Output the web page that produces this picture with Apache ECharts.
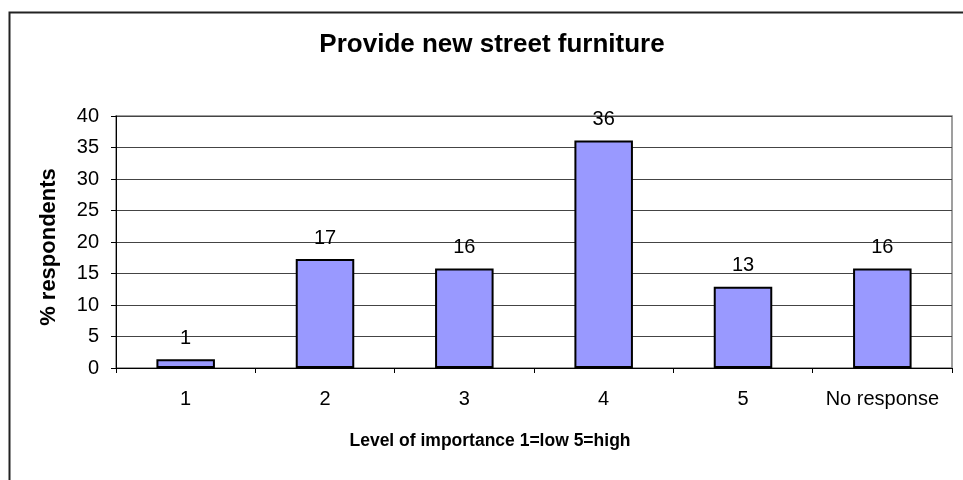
<!DOCTYPE html>
<html>
<head>
<meta charset="utf-8">
<script src="https://cdn.jsdelivr.net/npm/echarts@6/dist/echarts.min.js"></script>
<style>
  html, body { margin: 0; padding: 0; background: #fff; }
  #graf { width: 963px; height: 480px; }
</style>
</head>
<body>
<div id="graf"></div>
<script>
// datos
var categorias = ['1', '2', '3', '4', '5', 'No response'];
var porcentajes = [1.4, 17.3, 15.8, 36.1, 12.9, 15.8];
var ticksY = [0, 5, 10, 15, 20, 25, 30, 35, 40];

var fuente = 'Liberation Sans, Arial, sans-serif';

var myChart = echarts.init(document.getElementById('graf'));

var option = {
  animation: false,
  backgroundColor: '#fff',
  title: {
    text: 'Provide new street furniture',
    left: 487,
    top: 27,
    textAlign: 'center',
    textStyle: {
      fontFamily: fuente,
      fontWeight: 'bold',
      fontSize: 26,
      color: '#000'
    }
  },
  graphic: [
    {
      // marco exterior (solo se ve arriba e izquierda)
      type: 'rect',
      left: 7,
      top: 10,
      shape: { width: 1000, height: 1000 },
      style: { fill: 'none', stroke: '#222', lineWidth: 2 },
      silent: true
    }
  ],
  grid: {
    left: 116,
    right: 11,
    top: 116,
    bottom: 112,
    show: true,
    borderColor: '#808080',
    borderWidth: 1.5,
    backgroundColor: '#fff'
  },
  xAxis: {
    type: 'category',
    data: categorias,
    name: 'Level of importance 1=low 5=high',
    nameLocation: 'middle',
    nameGap: 64,
    nameTextStyle: {
      fontFamily: fuente,
      fontWeight: 'bold',
      fontSize: 17.5,
      color: '#000',
      padding: [0, 88, 0, 0]
    },
    axisLine: { lineStyle: { color: '#000', width: 1 } },
    axisTick: { show: true, inside: false, length: 5, interval: 0, lineStyle: { color: '#000' } },
    axisLabel: {
      interval: 0,
      margin: 21,
      fontFamily: fuente,
      fontSize: 20,
      color: '#000'
    }
  },
  yAxis: {
    type: 'value',
    min: ticksY[0],
    max: ticksY[ticksY.length - 1],
    interval: 5,
    name: '% respondents',
    nameLocation: 'middle',
    nameGap: 56,
    nameTextStyle: {
      fontFamily: fuente,
      fontWeight: 'bold',
      fontSize: 22,
      color: '#000',
      padding: [0, 10, 0, 0]
    },
    axisLine: { show: true, lineStyle: { color: '#000', width: 1 } },
    axisTick: { show: true, inside: false, length: 5, lineStyle: { color: '#000' } },
    axisLabel: {
      margin: 17,
      fontFamily: fuente,
      fontSize: 20,
      color: '#000'
    },
    splitLine: { show: true, lineStyle: { color: '#444', width: 1 } }
  },
  series: [
    {
      name: '% respondents',
      type: 'bar',
      data: porcentajes,
      barWidth: '42%',
      itemStyle: {
        color: '#9999FF',
        borderColor: '#000',
        borderWidth: 2
      },
      label: {
        show: true,
        position: 'top',
        distance: 11,
        fontFamily: fuente,
        fontSize: 20,
        color: '#000',
        formatter: function (p) { return Math.round(p.value); }
      }
    }
  ]
};

myChart.setOption(option);
</script>
</body>
</html>
